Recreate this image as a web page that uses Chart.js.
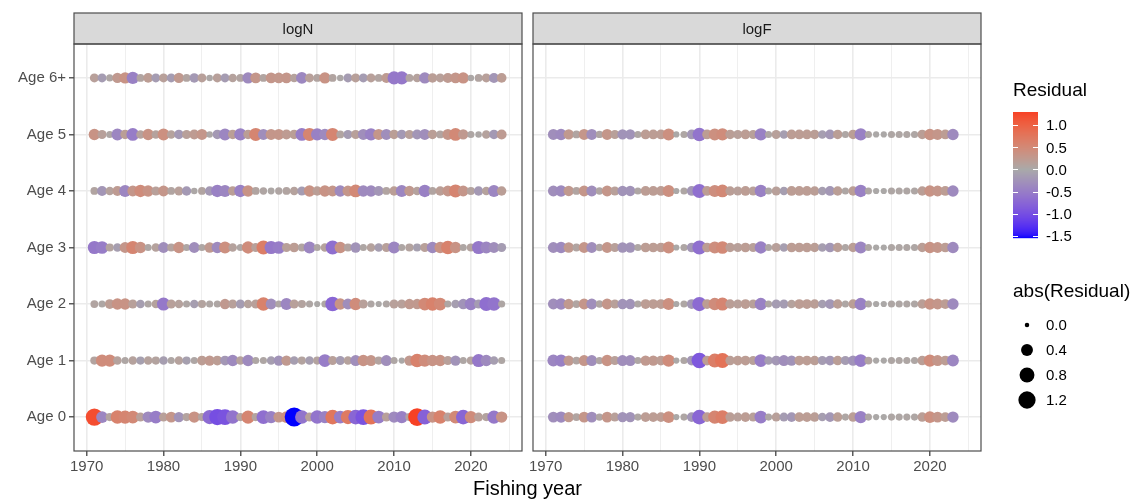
<!DOCTYPE html>
<html><head><meta charset="utf-8">
<script src="https://cdn.jsdelivr.net/npm/chart.js@4"></script>
<style>
html,body{margin:0;padding:0;background:#fff;width:1144px;height:499px;overflow:hidden;}
canvas{position:absolute;left:0;top:0;}
</style></head><body>
<canvas id="c1" width="1144" height="499"></canvas>
<canvas id="c2" width="1144" height="499"></canvas>
<script>
// ---------------- data ----------------
const ageLabels = ['Age 0','Age 1','Age 2','Age 3','Age 4','Age 5','Age 6+'];
const panelTitles = ['logN','logF'];
const xTickLabels = [1970,1980,1990,2000,2010,2020];
const xMinorBreaks = [1975,1985,1995,2005,2015,2025];
const colourBreaks = [1.0,0.5,0.0,-0.5,-1.0,-1.5];
const sizeBreaks = [0.0,0.4,0.8,1.2];

const logNYears = [1971,1972,1973,1974,1975,1976,1977,1978,1979,1980,1981,1982,1983,1984,1985,1986,1987,1988,1989,1990,
  1991,1992,1993,1994,1995,1996,1997,1998,1999,2000,2001,2002,2003,2004,2005,2006,2007,2008,2009,2010,
  2011,2012,2013,2014,2015,2016,2017,2018,2019,2020,2021,2022,2023,2024];
const logFYears = [1971,1972,1973,1974,1975,1976,1977,1978,1979,1980,1981,1982,1983,1984,1985,1986,1987,1988,1989,1990,
  1991,1992,1993,1994,1995,1996,1997,1998,1999,2000,2001,2002,2003,2004,2005,2006,2007,2008,2009,2010,
  2011,2012,2013,2014,2015,2016,2017,2018,2019,2020,2021,2022,2023];

const logN_age0 = [1.2,-0.4,0.1,0.6,0.55,0.5,0.15,-0.35,-0.5,0.15, 0.3,-0.25,0.1,0.35,0.1,-0.7,-1.0,-0.95,-0.6,0.1,
  0.55,0.1,-0.65,-0.45,0.3,0.4,-1.55,-0.6,0.15,-0.6, -0.45,0.75,-0.5,0.7,-0.75,-0.95,0.8,-0.5,0.15,-0.35,
  -0.45,0.1,1.3,-0.8,0.35,0.6,0.15,0.5,-0.75,0.45, 0.15,0.1,-0.55,0.35];
const logN_age1 = [0.1,0.45,0.45,0.12,0.05,0.12,-0.1,0.12,0.1,-0.12, 0.05,0.12,-0.1,0.05,0.2,0.25,0.2,-0.2,-0.35,0.12,
  -0.35,0.05,0.05,-0.12,-0.25,0.25,-0.12,0.1,-0.12,0.1, -0.5,0.15,-0.15,0.12,-0.3,0.35,0.3,0.1,-0.3,0.05,
  0.02,0.25,0.6,0.45,0.35,0.35,0.15,-0.25,0.05,0.1, -0.55,-0.35,-0.12,0.05];
const logN_age2 = [0.08,0.05,0.2,0.35,0.35,0.15,-0.12,0.05,0.12,-0.55, 0.15,0.12,0.05,-0.12,0.1,0.05,0.05,0.25,0.15,-0.15,
  0.12,0.15,0.6,-0.3,0.05,-0.4,0.15,0.1,0.05,0.02, 0.05,-0.75,0.35,-0.3,0.45,0.15,0.05,0.02,0.05,0.15,
  0.15,0.25,0.25,0.5,0.6,0.5,0.05,-0.12,-0.25,-0.45, -0.15,-0.65,-0.6,0.05];
const logN_age3 = [-0.55,-0.5,0.1,-0.12,0.3,0.55,0.35,0.05,0.12,-0.3, 0.1,0.35,0.05,-0.3,0.05,0.25,-0.35,0.4,0.12,0.05,
  0.45,0.15,0.65,-0.55,-0.5,0.15,0.2,0.08,-0.4,0.05, 0.12,-0.65,0.35,0.1,-0.25,0.05,0.12,-0.12,0.15,-0.4,
  0.05,0.1,-0.1,0.15,-0.35,0.35,0.6,0.35,0.05,0.1, -0.55,-0.4,-0.3,-0.15];
const logN_age4 = [0.08,-0.22,0.12,0.22,-0.4,0.3,0.45,0.35,0.15,0.3, 0.08,0.15,-0.18,0.03,0.08,-0.18,-0.45,-0.4,0.18,-0.45,
  0.35,0.08,0.06,0.04,0.06,0.08,0.12,-0.15,0.35,0.18, 0.35,0.3,-0.35,0.3,0.5,-0.35,-0.35,-0.22,0.08,0.18,
  -0.4,0.25,0.12,-0.45,0.08,0.18,0.3,0.55,0.3,0.1, -0.18,0.12,-0.4,0.18];
const logN_age5 = [0.35,0.15,0.05,-0.4,0.18,-0.5,0.12,0.35,0.12,0.4, 0.12,-0.18,0.15,0.22,0.3,0.03,-0.18,-0.4,0.18,-0.45,
  0.18,0.55,-0.3,0.3,0.3,0.22,0.18,-0.5,0.55,-0.45, -0.35,0.55,0.08,-0.15,0.15,-0.3,-0.45,0.3,-0.3,0.18,
  -0.18,0.15,-0.22,-0.3,0.18,0.08,0.3,0.5,0.25,0.05, 0.03,0.12,-0.18,0.22];
const logN_age6 = [0.15,-0.15,0.05,0.25,0.35,-0.45,0.08,0.2,-0.15,0.15, -0.15,0.25,0.08,-0.18,0.15,0.03,0.15,-0.15,0.12,0.08,
  -0.35,0.3,0.08,0.3,0.28,0.3,0.12,-0.38,0.15,0.08, 0.35,0.08,0.03,-0.15,0.15,-0.15,0.15,0.08,0.22,-0.55,
  -0.55,0.08,0.12,-0.35,0.18,0.15,0.22,0.3,0.35,0.03, 0.08,0.15,-0.22,0.2];

const logF_age0 = [-0.3,-0.35,0.25,0.08,0.3,-0.3,0.06,0.3,0.15,-0.25, -0.25,0.05,0.2,0.2,0.2,0.4,0.02,0.05,-0.2,-0.75,
  0.2,0.55,0.65,0.18,0.15,0.2,0.15,-0.5,0.05,0.15, -0.15,-0.2,0.2,0.2,0.18,-0.12,-0.2,0.18,0.05,0.18,
  -0.45,0.05,0.02,0.02,0.05,0.05,0.05,0.05,0.18,0.4,0.3,0.2,-0.35];
const logF_age1 = [-0.4,-0.45,0.25,0.08,0.3,-0.3,0.06,0.35,0.15,-0.3, -0.3,0.05,0.25,0.25,0.2,0.45,0.02,0.05,-0.2,-0.9,
  0.2,0.65,0.8,0.18,0.2,0.2,0.15,-0.5,-0.12,-0.2, -0.3,-0.25,0.2,0.2,0.18,-0.15,-0.2,0.18,-0.15,-0.25,
  -0.5,0.08,0.02,0.02,0.05,0.05,0.05,0.05,0.18,0.45,0.3,0.2,-0.4];
const logF_age2 = [-0.3,-0.35,0.25,0.08,0.3,-0.3,0.06,0.3,0.15,-0.25, -0.25,0.05,0.2,0.2,0.2,0.4,0.02,0.05,-0.2,-0.7,
  0.2,0.45,0.55,0.18,0.15,0.2,0.15,-0.45,0.05,-0.15, -0.15,0.12,0.2,0.2,0.18,-0.12,-0.2,0.18,0.05,0.18,
  -0.45,0.05,0.02,0.02,0.05,0.05,0.05,0.05,0.18,0.35,0.3,0.2,-0.35];
const logF_age3 = [-0.3,-0.35,0.25,0.08,0.3,-0.3,0.06,0.3,0.15,-0.25, -0.25,0.05,0.2,0.2,0.2,0.4,0.02,0.05,-0.2,-0.65,
  0.2,0.42,0.5,0.18,0.15,0.2,0.15,-0.45,0.05,0.15, -0.12,0.2,0.2,0.2,0.18,-0.12,-0.2,0.18,0.05,0.18,
  -0.4,0.05,0.02,0.02,0.05,0.05,0.05,0.05,0.18,0.35,0.3,0.2,-0.35];
const logF_age4 = [-0.3,-0.35,0.25,0.08,0.3,-0.3,0.06,0.3,0.15,-0.25, -0.25,0.05,0.2,0.2,0.2,0.4,0.02,0.05,-0.2,-0.65,
  0.2,0.42,0.5,0.18,0.15,0.2,0.15,-0.45,0.05,0.15, -0.12,0.2,0.2,0.2,0.18,-0.12,-0.2,0.18,0.05,0.18,
  -0.45,0.05,0.02,0.02,0.05,0.05,0.05,0.05,0.18,0.35,0.3,0.2,-0.35];
const logF_age5 = [-0.3,-0.35,0.25,0.08,0.3,-0.3,0.06,0.3,0.15,-0.25, -0.25,0.05,0.2,0.2,0.2,0.4,0.02,0.05,-0.2,-0.6,
  0.2,0.4,0.45,0.18,0.15,0.2,0.15,-0.45,0.05,0.15, -0.12,0.2,0.2,0.2,0.18,-0.12,-0.2,0.18,0.05,0.18,
  -0.45,0.05,0.02,0.02,0.05,0.05,0.05,0.05,0.18,0.35,0.3,0.2,-0.35];

const logNRows = [logN_age0,logN_age1,logN_age2,logN_age3,logN_age4,logN_age5,logN_age6];
const logFRows = [logF_age0,logF_age1,logF_age2,logF_age3,logF_age4,logF_age5];

// ---------------- scales (colour / size) ----------------
const RES_MIN = -1.55, RES_MAX = 1.3;
const ABS_MAX = Math.max(Math.abs(RES_MIN), Math.abs(RES_MAX));
const LOW = [0,0,255], MID = [169,169,169], HIGH = [255,0,0];
function s2l(c){c/=255;return c<=0.04045?c/12.92:Math.pow((c+0.055)/1.055,2.4);}
function l2s(c){c=c<=0.0031308?12.92*c:1.055*Math.pow(c,1/2.4)-0.055;return Math.round(Math.max(0,Math.min(1,c))*255);}
function toLab(rgb){const R=s2l(rgb[0]),G=s2l(rgb[1]),B=s2l(rgb[2]);
  const X=(0.4124*R+0.3576*G+0.1805*B)/0.95047,Y=0.2126*R+0.7152*G+0.0722*B,Z=(0.0193*R+0.1192*G+0.9505*B)/1.08883;
  const f=t=>t>0.008856?Math.cbrt(t):7.787*t+16/116;const fx=f(X),fy=f(Y),fz=f(Z);
  return [116*fy-16,500*(fx-fy),200*(fy-fz)];}
function fromLab(L,a,b){const fy=(L+16)/116,fx=fy+a/500,fz=fy-b/200;
  const fi=t=>t*t*t>0.008856?t*t*t:(t-16/116)/7.787;
  const X=fi(fx)*0.95047,Y=fi(fy),Z=fi(fz)*1.08883;
  const R=3.2406*X-1.5372*Y-0.4986*Z,G=-0.9689*X+1.8758*Y+0.0415*Z,B=0.0557*X-0.2040*Y+1.0570*Z;
  return 'rgb('+l2s(R)+','+l2s(G)+','+l2s(B)+')';}
const LAB_LOW=toLab(LOW),LAB_MID=toLab(MID),LAB_HIGH=toLab(HIGH);
function colour(v){const s=Math.max(-1,Math.min(1,v/ABS_MAX));const e=s<0?LAB_LOW:LAB_HIGH;const t=Math.abs(s);
  return fromLab(LAB_MID[0]+(e[0]-LAB_MID[0])*t,LAB_MID[1]+(e[1]-LAB_MID[1])*t,LAB_MID[2]+(e[2]-LAB_MID[2])*t);}
const D_MIN = 4.5, D_SPAN = 14.5;
function radius(v){return (D_MIN + D_SPAN*Math.sqrt(Math.abs(v)/ABS_MAX))/2;}

// ---------------- layout ----------------
const FONT = '"Liberation Sans", Arial, sans-serif';
const STRIP_TOP = 13, PANEL_TOP = 44, XAXIS_H = 48;
const P1 = {left:74, right:522}, P2 = {left:533, right:981};
const X_MIN = 1968.35, X_MAX = 2026.65;
const Y_MIN = -0.6, Y_MAX = 6.6;

function makeDatasets(rows, years){
  return rows.map((vals,i)=>({
    data: vals.map((v,j)=>({x:years[j], y:i, v:v})),
    pointRadius: ctx => radius(ctx.raw.v),
    pointBackgroundColor: ctx => colour(ctx.raw.v),
    pointBorderWidth: 0, pointBorderColor: 'rgba(0,0,0,0)', showLine:false
  }));
}
const xTicksAll = xTickLabels.concat(xMinorBreaks).sort((a,b)=>a-b);
function xScale(){
  return {type:'linear', min:X_MIN, max:X_MAX,
    afterBuildTicks: s => { s.ticks = xTicksAll.map(v=>({value:v})); },
    afterFit: s => { s.height = XAXIS_H; },
    border:{display:false},
    grid:{color:'#ebebeb', lineWidth: c => (c.tick && xTickLabels.includes(c.tick.value)) ? 1.6 : 0.8,
      drawTicks:true, tickLength:5, tickWidth:1.2,
      tickColor: c => (c.tick && xTickLabels.includes(c.tick.value)) ? '#333333' : 'rgba(0,0,0,0)'},
    ticks:{autoSkip:false, maxRotation:0, padding:2, color:'#4d4d4d', font:{family:FONT,size:15},
      callback: v => xTickLabels.includes(v) ? String(v) : ''}
  };
}
function yScale(showLabels){
  return {type:'linear', min:Y_MIN, max:Y_MAX,
    afterBuildTicks: s => { s.ticks = ageLabels.map((_,i)=>({value:i})); },
    afterFit: s => { s.width = showLabels ? P1.left : 0; },
    border:{display:false},
    grid:{color:'#ebebeb', lineWidth:1.6, drawTicks:showLabels, tickLength:5, tickWidth:1.2, tickColor:'#333333'},
    ticks:{display:showLabels, padding:3, color:'#4d4d4d', font:{family:FONT,size:15},
      callback: v => ageLabels[v]}
  };
}
function deco(title, extra){
  return {id:'deco_'+title, afterDraw(chart){
    const c=chart.ctx,a=chart.chartArea;c.save();
    c.fillStyle='#d9d9d9';c.fillRect(a.left,STRIP_TOP,a.right-a.left,a.top-STRIP_TOP);
    c.strokeStyle='#4d4d4d';c.lineWidth=1.2;
    c.strokeRect(a.left,STRIP_TOP,a.right-a.left,a.top-STRIP_TOP);
    c.strokeRect(a.left,a.top,a.right-a.left,a.bottom-a.top);
    c.fillStyle='#1a1a1a';c.font='15px '+FONT;c.textAlign='center';c.textBaseline='middle';
    c.fillText(title,(a.left+a.right)/2,(STRIP_TOP+a.top)/2+1);
    c.restore(); if(extra) extra(chart);
  }};
}
function drawXTitle(chart){
  const c=chart.ctx;c.save();c.fillStyle='#000';c.font='20px '+FONT;c.textAlign='center';c.textBaseline='middle';
  c.fillText('Fishing year',(P1.left+P2.right)/2,489);c.restore();
}
function drawLegend(chart){
  const c=chart.ctx;c.save();
  const lx=1013, barW=25, barTop=112, barBot=238;
  c.fillStyle='#000';c.font='19px '+FONT;c.textAlign='left';c.textBaseline='middle';
  c.fillText('Residual',lx,91);
  const yv = v => barTop + (RES_MAX - v)/(RES_MAX - RES_MIN)*(barBot-barTop);
  for(let y=barTop;y<barBot;y++){const v=RES_MAX-(y+0.5-barTop)/(barBot-barTop)*(RES_MAX-RES_MIN);
    c.fillStyle=colour(v);c.fillRect(lx,y,barW,1.2);}
  c.strokeStyle='#ffffff';c.lineWidth=1;
  c.font='15px '+FONT;
  colourBreaks.forEach(b=>{const y=Math.round(yv(b))+0.5;
    c.beginPath();c.moveTo(lx,y);c.lineTo(lx+5,y);c.moveTo(lx+barW-5,y);c.lineTo(lx+barW,y);c.stroke();
    c.fillStyle='#000';c.fillText(b.toFixed(1),1046,yv(b)+1);});
  c.font='19px '+FONT;c.fillText('abs(Residual)',lx,292);
  c.font='15px '+FONT;
  const keyY=[325,350,375,400];
  sizeBreaks.forEach((b,i)=>{c.fillStyle='#000';c.beginPath();c.arc(1027,keyY[i],radius(b),0,Math.PI*2);c.fill();
    c.fillText(b.toFixed(1),1046,keyY[i]+1);});
  c.restore();
}
function config(rows, years, pad, showY, title, extra){
  return {type:'scatter',
    data:{datasets:makeDatasets(rows, years)},
    options:{responsive:false, animation:false, events:[],
      layout:{padding:pad},
      plugins:{legend:{display:false}, tooltip:{enabled:false}},
      scales:{x:xScale(), y:yScale(showY)}},
    plugins:[deco(title, extra)]};
}
new Chart(document.getElementById('c1'), config(logNRows, logNYears,
  {left:0,right:1144-P1.right,top:PANEL_TOP,bottom:0}, true, panelTitles[0], drawXTitle));
new Chart(document.getElementById('c2'), config(logFRows, logFYears,
  {left:P2.left,right:1144-P2.right,top:PANEL_TOP,bottom:0}, false, panelTitles[1], drawLegend));
</script></body></html>
